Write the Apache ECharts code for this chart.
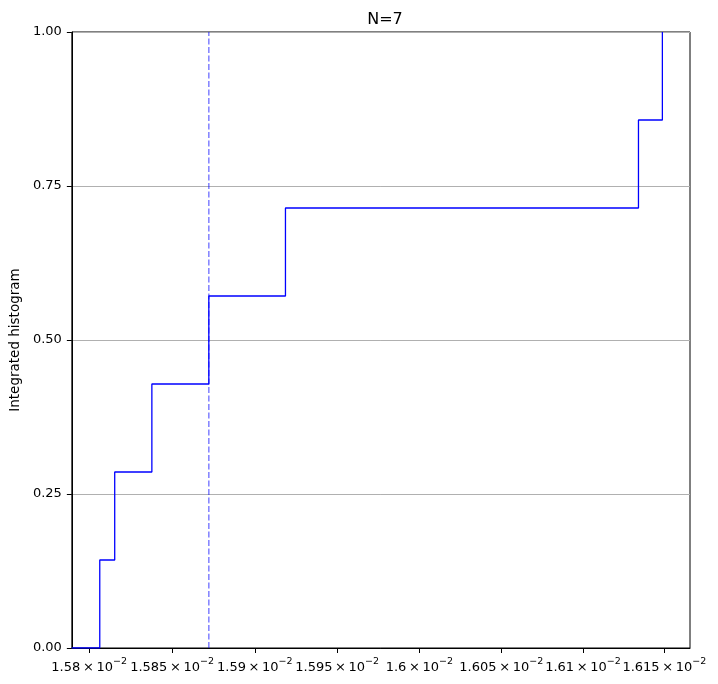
<!DOCTYPE html>
<html>
<head>
<meta charset="utf-8">
<script src="https://cdn.jsdelivr.net/npm/echarts@6/dist/echarts.min.js"></script>
<style>html,body{margin:0;padding:0;background:#fff}#c{width:718px;height:684px}</style>
</head>
<body>
<div id="c"></div>
<script>
// Data (x axis is logarithmic)
const stepX = [0.0157896, 0.0158064, 0.0158154, 0.0158378, 0.0158722, 0.0159186, 0.0161341, 0.0161488];
const stepY = [0, 1/7, 2/7, 3/7, 4/7, 5/7, 6/7, 7/7];
const medianX = 0.0158722;
const xTicks = [0.0158, 0.01585, 0.0159, 0.01595, 0.016, 0.01605, 0.0161, 0.01615];
const xTickText = ['1.58', '1.585', '1.59', '1.595', '1.6', '1.605', '1.61', '1.615'];
const yTicks = [0, 0.25, 0.5, 0.75, 1.0];
const xMin = 0.0157896, xMax = 0.0161658;

// log transform into a convenient numeric range for a linear axis
const L = x => Math.round(Math.log10(x / xTicks[0]) * 1e7) / 100;
const tickPos = xTicks.map(L);
const chart = echarts.init(document.getElementById('c'), null, {renderer: 'canvas'});
const font = 'DejaVu Sans';
chart.setOption({
  animation: false,
  title: {text: 'N=7', left: 380, top: 7, textAlign: 'center',
    textStyle: {fontFamily: font, fontSize: 16, fontWeight: 'normal', color: '#000'}},
  grid: {left: 70, right: 28, top: 32, bottom: 36, show: true, borderColor: '#000', borderWidth: 1, backgroundColor: 'transparent'},
  xAxis: {
    type: 'value', min: L(xMin), max: L(xMax),
    axisLine: {show: true, onZero: false, lineStyle: {color: '#000'}},
    axisTick: {show: true, length: 5, customValues: tickPos, lineStyle: {color: '#000'}},
    splitLine: {show: false},
    axisLabel: {
      customValues: tickPos, margin: 9, hideOverlap: false, color: '#000',
      fontFamily: font, fontSize: 13,
      formatter: function (v) {
        let best = 0, bd = Infinity;
        tickPos.forEach((t, i) => { const d = Math.abs(t - v); if (d < bd) { bd = d; best = i; } });
        return '{a|' + xTickText[best] + '\u2009\u00d7\u200910}{s|\u22122}';
      },
      rich: {
        a: {fontFamily: font, fontSize: 13, color: '#000', lineHeight: 17, verticalAlign: 'bottom'},
        s: {fontFamily: font, fontSize: 9.5, color: '#000', lineHeight: 17, verticalAlign: 'top'}
      }
    }
  },
  yAxis: {
    type: 'value', min: 0, max: 1, interval: 0.25,
    name: 'Integrated histogram', nameLocation: 'middle', nameGap: 48, nameRotate: 90,
    nameTextStyle: {fontFamily: font, fontSize: 13.5, color: '#000'},
    axisLine: {show: true, onZero: false, lineStyle: {color: '#000'}},
    axisTick: {show: true, length: 5, lineStyle: {color: '#000'}},
    splitLine: {show: true, lineStyle: {color: '#b0b0b0', width: 1}},
    axisLabel: {margin: 10, color: '#000', fontFamily: font, fontSize: 13,
      formatter: v => v.toFixed(2)}
  },
  series: [{
    type: 'line', step: 'end', symbol: 'none', clip: true,
    data: stepX.map((x, i) => [L(x), stepY[i]]),
    lineStyle: {color: '#0000ff', width: 1.3},
    z: 3
  }, {
    type: 'line', symbol: 'none', clip: true,
    data: [[L(medianX), yTicks[0]], [L(medianX), yTicks[yTicks.length - 1]]],
    lineStyle: {color: 'rgba(0,0,255,0.5)', type: [6, 2.5], width: 1.5},
    z: 2
  }]
});
</script>
</body>
</html>
